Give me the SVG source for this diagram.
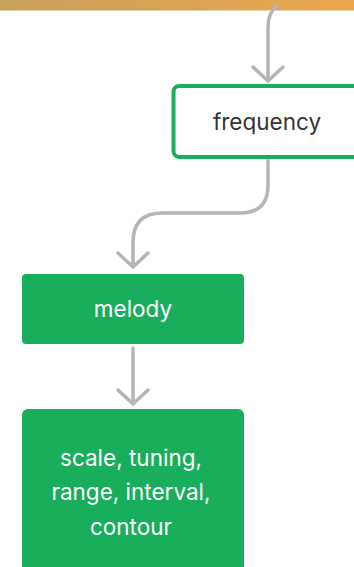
<svg xmlns="http://www.w3.org/2000/svg" width="354" height="567" viewBox="0 0 354 567">
<defs>
<linearGradient id="band" x1="0" y1="0" x2="1" y2="0">
<stop offset="0" stop-color="#c9a15c"/>
<stop offset="1" stop-color="#e9a64d"/>
</linearGradient>
<style>
.conn{fill:none;stroke:#b5b5b5;stroke-width:3.5;stroke-linecap:round;stroke-linejoin:round}
.lbl{font-family:Inter,"Liberation Sans",sans-serif;font-size:22.5px;text-anchor:middle}
.white{fill:#ffffff}
.dark{fill:#333333}
.green{fill:#19ae5c}
</style>
</defs>
<rect width="354" height="567" fill="#ffffff"/>
<rect x="0" y="0" width="354" height="10.5" fill="url(#band)"/>
<g id="connectors">
<path class="conn" d="M277,6 Q268,12 268,28 L268,80"/>
<path class="conn" d="M253,67 L268,81 L283,67"/>
<path class="conn" d="M268,160 L268,185 Q268,213 240,213 L162,213 Q133,213 133,243 L133,266"/>
<path class="conn" d="M118,253 L133,267 L148,253"/>
<path class="conn" d="M133,348 L133,403"/>
<path class="conn" d="M118,390 L133,404 L148,390"/>
</g>
<g id="frequency">
<rect x="173.5" y="86" width="200" height="71" rx="6" fill="#ffffff" stroke="#19ae5c" stroke-width="4"/>
<text class="lbl dark" x="267" y="130">frequency</text>
</g>
<g id="melody">
<rect class="green" x="22" y="274" width="222" height="70" rx="4"/>
<text class="lbl white" x="133" y="317">melody</text>
</g>
<g id="details">
<rect class="green" x="22" y="409" width="222" height="180" rx="6"/>
<text class="lbl white" x="131" y="466">scale, tuning,</text>
<text class="lbl white" x="131" y="500">range, interval,</text>
<text class="lbl white" x="131" y="535">contour</text>
</g>
</svg>
